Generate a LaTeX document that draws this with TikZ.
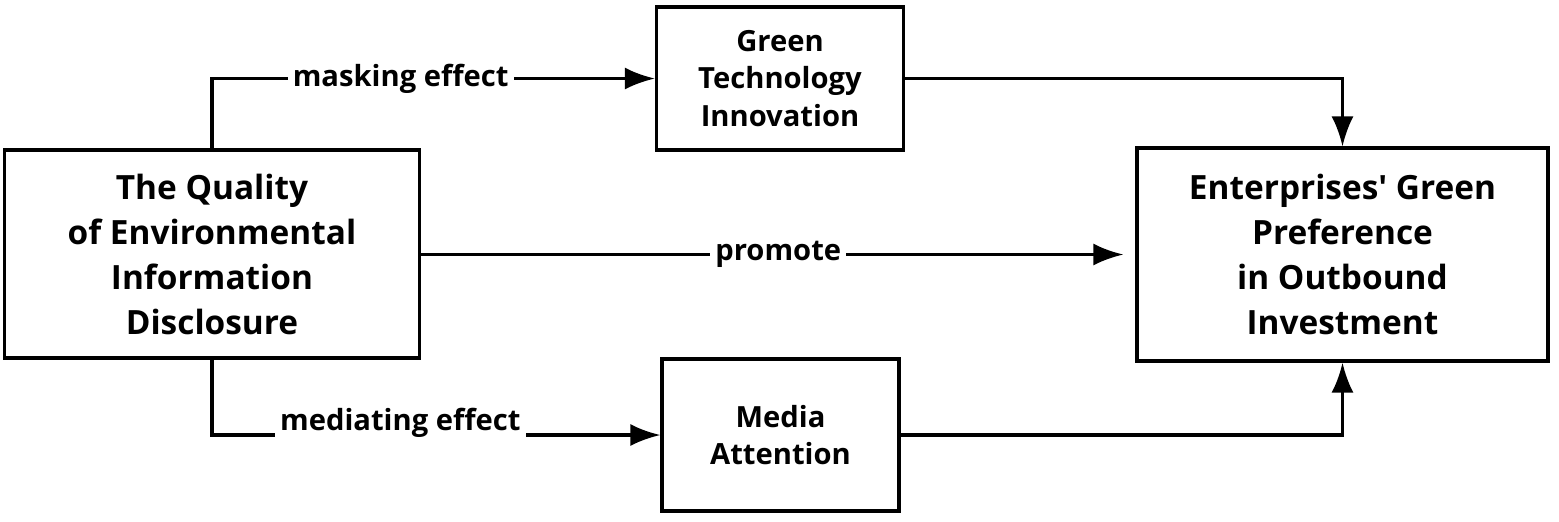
\documentclass[tikz,border=0pt]{standalone}
\usepackage{fontspec}
\setmainfont{Open Sans}
\usetikzlibrary{arrows.meta}

\begin{document}
\begin{tikzpicture}[line width=0.9pt, >={Latex[length=3mm,width=2.2mm]},
    bigbox/.style = {draw, align=center, font=\bfseries\fontsize{9.5}{12.8}\selectfont},
    midbox/.style = {draw, align=center, font=\bfseries\fontsize{8.3}{10.6}\selectfont},
    lbl/.style = {fill=white, inner sep=1.5pt, font=\bfseries\fontsize{8.3}{10}\selectfont}]
		\useasboundingbox (0,0) rectangle (15.59,-5.21);
		\node[bigbox, minimum width=4.15cm, minimum height=2.08cm] (quality) at (2.12,-2.54) {The Quality\\of Environmental\\Information\\Disclosure};
		\node[midbox, minimum width=2.47cm, minimum height=1.43cm] (tech) at (7.80,-0.785) {Green\\Technology\\Innovation};
		\node[midbox, minimum width=2.37cm, minimum height=1.52cm] (media) at (7.805,-4.35) {Media\\Attention};
		\node[bigbox, minimum width=4.11cm, minimum height=2.13cm] (pref) at (13.425,-2.545) {Enterprises\textquotesingle{} Green\\Preference\\in Outbound\\Investment};
		\draw[->] (quality.north) |- node[lbl, pos=0.713] {masking effect} (tech.west);
		\draw[->] (quality.south) |- node[lbl, pos=0.71, yshift=0.12cm] {mediating effect} (media.west);
		\draw[->, shorten >=0.12cm] (quality.east |- pref.west) -- node[lbl] {promote} (pref.west);
		\draw[->] (tech.east) -| (pref.north);
		\draw[->] (media.east) -| (pref.south);
	\end{tikzpicture}
\end{document}
